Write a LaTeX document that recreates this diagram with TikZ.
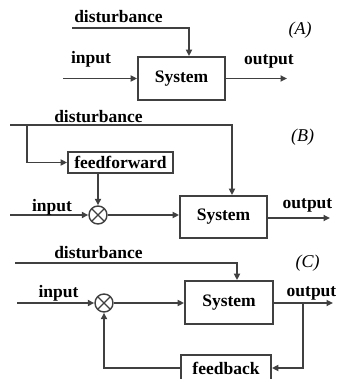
\documentclass[tikz,border=0pt]{standalone}
\usepackage{fontspec}
\setmainfont{Liberation Serif}
\usetikzlibrary{arrows.meta}
\definecolor{linec}{HTML}{404040}
\begin{document}
\begin{tikzpicture}[x=1pt,y=-1pt,
  conn/.style={draw=linec, line width=1.8pt},
  arr/.style={conn, -{Triangle[length=6.5pt,width=6pt]}},
  lbl/.style={font=\fontsize{17.5}{17.5}\selectfont\bfseries, text=black, inner sep=0pt},
  tag/.style={font=\fontsize{18}{18}\selectfont\itshape, text=black, inner sep=0pt},
  blk/.style={draw=linec, line width=1.8pt, fill=white, inner sep=0pt,
              font=\fontsize{17.5}{17.5}\selectfont\bfseries, text=black},
  sumpt/.style={circle, draw=linec, line width=1.4pt, minimum size=18pt, inner sep=0pt,
    path picture={\draw[linec, line width=1.2pt]
      (path picture bounding box.north west) -- (path picture bounding box.south east)
      (path picture bounding box.north east) -- (path picture bounding box.south west);}}]
\useasboundingbox (0,0) rectangle (337,379);
\clip (0,0) rectangle (337,379);
\fill[white] (0,0) rectangle (337,379);

% ---------- (A) open loop ----------
\node[blk, minimum width=87pt, minimum height=43pt] (sysA) at (181.5,78.5) {System};
\coordinate (dA) at (72,28);
\coordinate (inA) at (63,78.5);
\coordinate (outA) at (287,78.5);
\draw[arr] (dA) -| ([xshift=7.5pt]sysA.north);
\draw[arr] (inA) -- (sysA.west);
\draw[arr] (sysA.east) -- (outA);
\node[lbl] (tdA) at (118.5,17) {disturbance};
\node[lbl] (tiA) at (91,59) {input};
\node[lbl] (toA) at (269,61) {output};
\node[tag] (tagA) at (300,30) {(A)};

% ---------- (B) feedforward ----------
\node[blk, minimum width=105pt, minimum height=21pt] (ff) at (120.5,162.5) {feedforward};
\node[blk, minimum width=87pt, minimum height=42pt] (sysB) at (223.5,217) {System};
\node[sumpt] (sumB) at (98,215) {};
\coordinate (dB) at (10,125);
\coordinate (brB) at (27,125);
\coordinate (inB) at (10,215);
\coordinate (outB) at (330,218);
\draw[arr] (dB) -| ([xshift=8.5pt]sysB.north);
\draw[arr] (brB) |- (ff.west);
\draw[arr] (ff.south -| sumB.north) -- (sumB.north);
\draw[arr] (inB) -- (sumB.west);
\draw[arr] (sumB.east) -- (sumB.east -| sysB.west);
\draw[arr] (sysB.east |- outB) -- (outB);
\node[lbl] (tdB) at (98.5,117) {disturbance};
\node[lbl] (tiB) at (52,207) {input};
\node[lbl] (toB) at (307.5,205) {output};
\node[tag] (tagB) at (302.5,137) {(B)};

% ---------- (C) feedback ----------
\node[blk, minimum width=88pt, minimum height=43pt] (sysC) at (229,302.5) {System};
\node[blk, minimum width=90pt, minimum height=26pt] (fb) at (226,368) {feedback};
\node[sumpt] (sumC) at (104,303) {};
\coordinate (dC) at (15,263);
\coordinate (inC) at (17,303);
\coordinate (outC) at (333,303);
\coordinate (brC) at (303,303);
\draw[arr] (dC) -| ([xshift=8pt]sysC.north);
\draw[arr] (inC) -- (sumC.west);
\draw[arr] (sumC.east) -- (sumC.east -| sysC.west);
\draw[arr] (sysC.east |- outC) -- (outC);
\draw[arr] (brC) |- (fb.east);
\draw[arr] (fb.west) -| (sumC.south);
\node[lbl] (tdC) at (98.5,253) {disturbance};
\node[lbl] (tiC) at (58.5,293) {input};
\node[lbl] (toC) at (311.5,293) {output};
\node[tag] (tagC) at (307.5,263) {(C)};
\end{tikzpicture}
\end{document}
